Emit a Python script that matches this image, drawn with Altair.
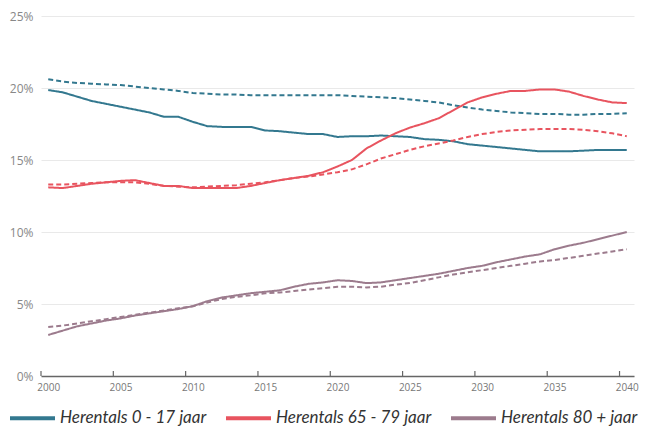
import altair as alt
import pandas as pd

years = list(range(2000, 2041))

kids_solid = [19.86, 19.7, 19.4, 19.1, 18.9, 18.7, 18.5, 18.3, 18.0, 18.0,
              17.65, 17.35, 17.3, 17.3, 17.3, 17.05, 17.0, 16.9, 16.8, 16.8,
              16.6, 16.65, 16.65, 16.7, 16.65, 16.6, 16.45, 16.4, 16.3, 16.1,
              16.0, 15.9, 15.8, 15.7, 15.6, 15.6, 15.6, 15.65, 15.7, 15.7, 15.7]
kids_dash = [20.6, 20.45, 20.35, 20.3, 20.25, 20.2, 20.1, 20.0, 19.9, 19.8,
             19.65, 19.6, 19.55, 19.55, 19.5, 19.5, 19.5, 19.5, 19.5, 19.5,
             19.5, 19.45, 19.4, 19.35, 19.3, 19.2, 19.1, 19.0, 18.8, 18.65,
             18.5, 18.4, 18.3, 18.25, 18.2, 18.2, 18.15, 18.15, 18.2, 18.2, 18.25]
mid_solid = [13.1, 13.05, 13.2, 13.35, 13.45, 13.55, 13.6, 13.4, 13.2, 13.2,
             13.05, 13.05, 13.05, 13.05, 13.2, 13.4, 13.6, 13.75, 13.9, 14.15,
             14.55, 15.0, 15.8, 16.35, 16.85, 17.25, 17.55, 17.9, 18.45, 19.0,
             19.35, 19.6, 19.8, 19.8, 19.9, 19.9, 19.75, 19.45, 19.2, 19.0, 18.95]
mid_dash = [13.3, 13.3, 13.35, 13.4, 13.45, 13.45, 13.45, 13.35, 13.2, 13.15,
            13.1, 13.15, 13.2, 13.25, 13.35, 13.45, 13.6, 13.75, 13.85, 14.0,
            14.15, 14.35, 14.7, 15.1, 15.4, 15.7, 15.95, 16.15, 16.35, 16.6,
            16.8, 16.95, 17.05, 17.1, 17.15, 17.15, 17.15, 17.1, 17.0, 16.85, 16.65]
old_solid = [2.85, 3.15, 3.45, 3.65, 3.85, 4.0, 4.2, 4.35, 4.5, 4.65,
             4.85, 5.2, 5.45, 5.6, 5.75, 5.85, 5.95, 6.2, 6.4, 6.5,
             6.65, 6.6, 6.45, 6.5, 6.65, 6.8, 6.95, 7.1, 7.3, 7.5,
             7.65, 7.9, 8.1, 8.3, 8.45, 8.8, 9.05, 9.25, 9.5, 9.75, 10.0]
old_dash = [3.4, 3.5, 3.65, 3.8, 3.95, 4.1, 4.25, 4.4, 4.55, 4.7,
            4.85, 5.1, 5.35, 5.5, 5.6, 5.75, 5.8, 5.9, 6.0, 6.1,
            6.2, 6.2, 6.15, 6.2, 6.35, 6.45, 6.65, 6.85, 7.05, 7.2,
            7.35, 7.5, 7.65, 7.8, 7.95, 8.05, 8.2, 8.35, 8.5, 8.65, 8.8]

series_names = ["Herentals 0 - 17 jaar", "Herentals 65 - 79 jaar", "Herentals 80 + jaar"]
series_colors = ["#33788f", "#e8545f", "#9c7b8d"]
tick_years = [1999.5, 2004.5, 2009.5, 2014.5, 2019.5, 2024.5, 2029.5, 2034.5, 2039.5]
label_years = [2000, 2005, 2010, 2015, 2020, 2025, 2030, 2035, 2040]
y_ticks = [0, 5, 10, 15, 20, 25]

rows = []
for name, solid, dash in zip(series_names,
                             [kids_solid, mid_solid, old_solid],
                             [kids_dash, mid_dash, old_dash]):
    for y, v in zip(years, solid):
        rows.append({"jaar": y, "pct": v, "reeks": name, "type": "solid", "key": name + "s"})
    for y, v in zip(years, dash):
        rows.append({"jaar": y, "pct": v, "reeks": name, "type": "dash", "key": name + "d"})
df = pd.DataFrame(rows)

xscale = alt.Scale(domain=[1999.5, 2040.5], nice=False, zero=False)
yscale = alt.Scale(domain=[0, 25], nice=False)

lines = alt.Chart(df).mark_line(strokeWidth=2).encode(
    x=alt.X("jaar:Q", scale=xscale, title=None,
            axis=alt.Axis(values=label_years, format="d", ticks=False, grid=False,
                          labelColor="#777", labelFontSize=10, labelFont="Open Sans",
                          labelPadding=6, domainColor="#666", domainWidth=1.5)),
    y=alt.Y("pct:Q", scale=yscale, title=None,
            axis=alt.Axis(values=y_ticks, labelExpr="datum.value + '%'", ticks=False,
                          domain=False, gridColor="#e9e9e9", gridWidth=1,
                          labelColor="#888", labelFontSize=12, labelFont="Open Sans",
                          labelPadding=8)),
    color=alt.Color("reeks:N",
                    scale=alt.Scale(domain=series_names, range=series_colors),
                    legend=alt.Legend(title=None, orient="none", direction="horizontal",
                                      legendX=-33, legendY=377.5,
                                      symbolType="stroke", symbolSize=2025,
                                      symbolStrokeWidth=4, labelFont="Lato",
                                      labelFontStyle="italic", labelFontSize=17,
                                      labelColor="#333", labelOffset=3,
                                      columnPadding=11, labelLimit=300)),
    strokeDash=alt.StrokeDash("type:N",
                              scale=alt.Scale(domain=["solid", "dash"],
                                              range=[[1, 0], [5, 3]]),
                              legend=None),
    detail="key:N",
)

ticks_df = pd.DataFrame({"jaar": tick_years})
ticks = alt.Chart(ticks_df).mark_rule(color="#666", strokeWidth=1.2).encode(
    x=alt.X("jaar:Q", scale=xscale),
    y=alt.value(360),
    y2=alt.value(355),
)

chart = alt.layer(lines, ticks).properties(
    width=593, height=360,
    autosize=alt.AutoSizeParams(type="none"),
    padding={"left": 33, "top": 8, "right": 5, "bottom": 52},
).configure_view(stroke=None)

chart.save("out.html", embed_options={"renderer": "svg", "actions": False})
